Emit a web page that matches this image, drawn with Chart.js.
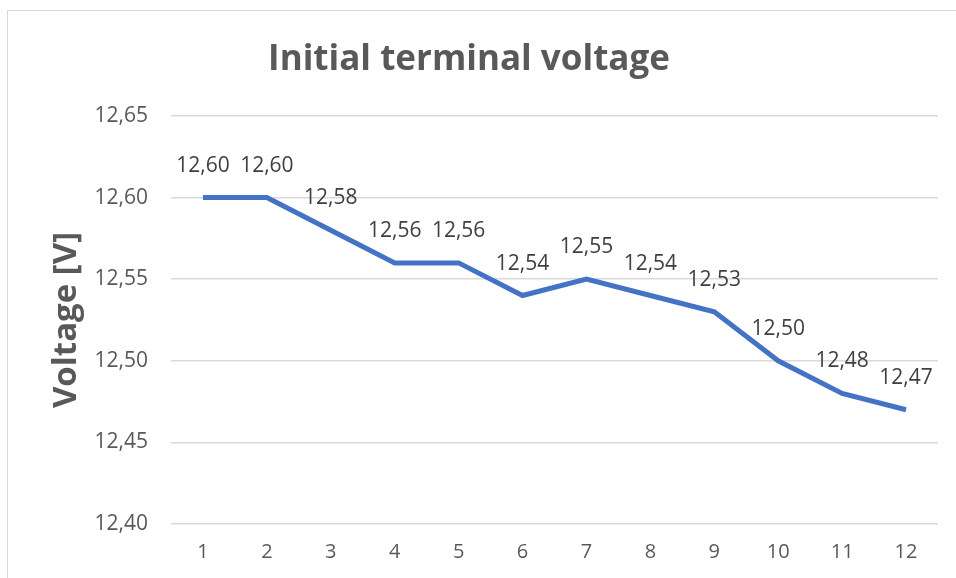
<!DOCTYPE html>
<html>
<head>
<meta charset="utf-8">
<script src="https://cdn.jsdelivr.net/npm/chart.js@4.4.1/dist/chart.umd.min.js"></script>
<style>
  html, body { margin: 0; padding: 0; background: #ffffff; overflow: hidden; }
  #wrap { position: relative; width: 956px; height: 578px; }
  #frame { position: absolute; left: 7px; top: 10px; width: 1000px; height: 1000px; border: 1px solid #d9d9d9; box-sizing: border-box; }
  canvas { position: absolute; left: 0; top: 0; }
</style>
</head>
<body>
<div id="wrap">
  <div id="frame"></div>
  <canvas id="c" width="956" height="578"></canvas>
</div>
<script>
const categories = ['1','2','3','4','5','6','7','8','9','10','11','12'];
const voltage = [12.60, 12.60, 12.58, 12.56, 12.56, 12.54, 12.55, 12.54, 12.53, 12.50, 12.48, 12.47];
const yTicks = [12.40, 12.45, 12.50, 12.55, 12.60, 12.65];
const chartTitle = 'Initial terminal voltage';
const yTitle = 'Voltage [V]';

const fmt = v => Number(v).toFixed(2).replace('.', ',');

const dataLabels = {
  id: 'dataLabels',
  afterDatasetsDraw(chart) {
    const ctx = chart.ctx;
    const meta = chart.getDatasetMeta(0);
    ctx.save();
    ctx.font = '21px "Open Sans"';
    ctx.fillStyle = '#404040';
    ctx.textAlign = 'center';
    ctx.textBaseline = 'middle';
    meta.data.forEach((pt, i) => {
      ctx.fillText(fmt(chart.data.datasets[0].data[i]), pt.x, pt.y - 32);
    });
    ctx.restore();
  }
};

new Chart(document.getElementById('c'), {
  type: 'line',
  data: {
    labels: categories,
    datasets: [{
      data: voltage,
      borderColor: '#4472C4',
      borderWidth: 5,
      pointRadius: 0,
      tension: 0,
      fill: false
    }]
  },
  options: {
    responsive: false,
    animation: false,
    layout: { padding: { left: 0, right: 18, top: 0, bottom: 0 } },
    plugins: {
      legend: { display: false },
      tooltip: { enabled: false },
      title: {
        display: true,
        text: chartTitle,
        color: '#595959',
        font: { family: '"Open Sans"', size: 35, weight: 'bold', lineHeight: 1.2 },
        padding: { top: 39, bottom: 35 }
      }
    },
    scales: {
      x: {
        offset: true,
        grid: { display: false, drawTicks: false },
        border: { display: false },
        ticks: { color: '#595959', font: { family: '"Open Sans"', size: 20 }, padding: 16 },
        afterFit(scale) { scale.height = 54; }
      },
      y: {
        min: 12.40,
        max: 12.65,
        afterBuildTicks(scale) { scale.ticks = yTicks.map(v => ({ value: v })); },
        grid: { color: '#d9d9d9', lineWidth: 1.5, drawTicks: false },
        border: { display: false },
        ticks: {
          color: '#595959',
          font: { family: '"Open Sans"', size: 21 },
          padding: 23,
          callback: v => fmt(v)
        },
        title: {
          display: true,
          text: yTitle,
          color: '#595959',
          font: { family: '"Open Sans"', size: 33, weight: 'bold', lineHeight: 1.2 },
          padding: { top: 47, bottom: 0 }
        },
        afterFit(scale) { scale.width = 171; }
      }
    }
  },
  plugins: [dataLabels]
});
</script>
</body>
</html>
